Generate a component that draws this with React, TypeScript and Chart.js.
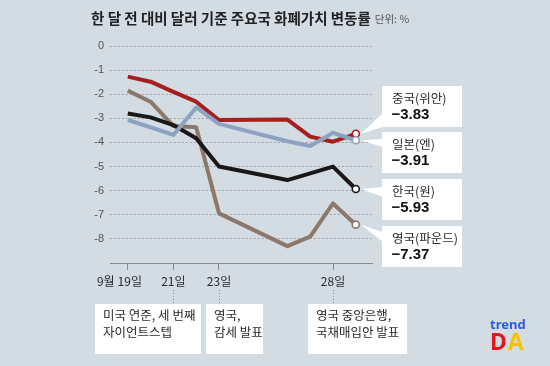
import { useEffect, useRef } from 'react';
import { Chart, registerables } from 'chart.js';

Chart.register(...registerables);

// ---- data ----
const days = [19, 20, 21, 22, 23, 26, 27, 28, 29];
const japanValues = [-3.07, -3.37, -3.69, -2.55, -3.23, -3.95, -4.15, -3.6, -3.91];
const chinaValues = [-1.27, -1.48, -1.9, -2.31, -3.07, -3.05, -3.76, -3.97, -3.64];
const koreaValues = [-2.8, -2.96, -3.28, -3.83, -5.0, -5.56, -5.28, -5.0, -5.93];
const ukValues = [-1.85, -2.31, -3.32, -3.37, -6.94, -8.3, -7.91, -6.53, -7.41];

const seriesNames = ['일본(엔)', '중국(위안)', '한국(원)', '영국(파운드)'];
const finalLabels = ['−3.91', '−3.83', '−5.93', '−7.37'];

const tickDays = [19, 21, 23, 28];
const tickLabels = ['19일', '21일', '23일', '28일'];
const monthLabel = '9월';
const yTickValues = [0, -1, -2, -3, -4, -5, -6, -7, -8];

const eventDays = [21, 23, 28];
const eventTexts = [
  ['미국 연준, 세 번째', '자이언트스텝'],
  ['영국,', '감세 발표'],
  ['영국 중앙은행,', '국채매입안 발표'],
];

const titleText = '한 달 전 대비 달러 기준 주요국 화폐가치 변동률';
const unitText = '단위: %';

// ---- styles ----
const BG = '#d3dbe3';
const COLORS = ['#8ea2c2', '#a51f1f', '#1b1716', '#8c7768'];
const KR = '"Noto Sans CJK KR", "Noto Sans", sans-serif';
const NUM = '"Liberation Sans", Arial, sans-serif';

const labelBoxLayout = [
  { top: 132, w1: 139, w2: 147 },
  { top: 86, w1: 113, w2: 127 },
  { top: 179, w1: 187, w2: 197 },
  { top: 226, w1: 232, w2: 242 },
];
const eventBoxLayout = [
  { left: 95, right: 201 },
  { left: 206, right: 263 },
  { left: 308, right: 407 },
];

const overlayPlugin = {
  id: 'overlay',
  afterDatasetsDraw(chart: any) {
    const ctx = chart.ctx as CanvasRenderingContext2D;
    const xs = chart.scales.x;
    ctx.save();
    const boxLeft = 382;
    const boxRight = 462;
    const boxH = 41;
    chart.data.datasets.forEach((ds: any, i: number) => {
      const meta = chart.getDatasetMeta(i);
      const pt = meta.data[meta.data.length - 1];
      const lay = labelBoxLayout[i];
      ctx.fillStyle = '#ffffff';
      ctx.beginPath();
      ctx.moveTo(pt.x + 5, pt.y);
      ctx.lineTo(boxLeft + 1, lay.w1);
      ctx.lineTo(boxLeft + 1, lay.w2);
      ctx.closePath();
      ctx.fill();
      ctx.fillRect(boxLeft, lay.top, boxRight - boxLeft, boxH);
      ctx.fillStyle = '#2a2a2a';
      ctx.textBaseline = 'middle';
      ctx.textAlign = 'left';
      ctx.font = `12.5px ${KR}`;
      ctx.fillText(seriesNames[i], 392, lay.top + 12);
      ctx.fillStyle = '#111';
      ctx.font = `bold 15px ${NUM}`;
      ctx.fillText(finalLabels[i], 391.5, lay.top + 29);
    });

    // x tick labels
    ctx.fillStyle = '#2a2a2a';
    ctx.font = `12px ${KR}`;
    ctx.textBaseline = 'middle';
    tickDays.forEach((d, i) => {
      const px = xs.getPixelForValue(d);
      ctx.textAlign = 'center';
      ctx.fillText(tickLabels[i], px + (i === 0 ? 2 : 0), 281);
      if (i === 0) {
        const w = ctx.measureText(tickLabels[i]).width;
        ctx.textAlign = 'right';
        ctx.fillText(monthLabel, px + 2 - w / 2 - 3, 281);
      }
    });
    ctx.textAlign = 'left';

    // event connectors and boxes
    eventDays.forEach((d, i) => {
      const px = Math.round(xs.getPixelForValue(d)) + 0.5;
      ctx.strokeStyle = '#8a8f96';
      ctx.lineWidth = 1;
      ctx.setLineDash([1, 2]);
      ctx.beginPath();
      ctx.moveTo(px, 290);
      ctx.lineTo(px, 304);
      ctx.stroke();
      ctx.setLineDash([]);
      const b = eventBoxLayout[i];
      ctx.fillStyle = '#ffffff';
      ctx.fillRect(b.left, 304, b.right - b.left, 50);
      ctx.fillStyle = '#2a2a2a';
      ctx.font = `12.5px ${KR}`;
      ctx.textBaseline = 'middle';
      ctx.fillText(eventTexts[i][0], b.left + 8, 315.5);
      ctx.fillText(eventTexts[i][1], b.left + 8, 332);
    });

    // title
    ctx.fillStyle = '#222';
    ctx.font = `bold 14.5px ${KR}`;
    ctx.textBaseline = 'middle';
    ctx.fillText(titleText, 91, 18);
    const tw = ctx.measureText(titleText).width;
    ctx.fillStyle = '#555';
    ctx.font = `10.5px ${KR}`;
    ctx.fillText(unitText, 91 + tw + 4, 19);

    // logo
    ctx.font = `bold 13px "Noto Sans", sans-serif`;
    ctx.fillStyle = '#2b5ce0';
    ctx.fillText('trend', 490, 325);
    ctx.font = `bold 23px "Noto Sans", sans-serif`;
    ctx.fillStyle = '#e3161f';
    ctx.fillText('D', 490, 343);
    const dw = ctx.measureText('D').width;
    ctx.fillStyle = '#f6c200';
    ctx.fillText('A', 490 + dw + 1, 343);
    ctx.restore();
  },
};

const seriesValues = [japanValues, chinaValues, koreaValues, ukValues];

export default function App() {
  const ref = useRef<HTMLCanvasElement>(null);
  useEffect(() => {
    if (!ref.current) return;
    const lastIdx = days.length - 1;
    const chart = new Chart(ref.current, {
      type: 'line',
      data: {
        datasets: seriesValues.map((vals, i) => ({
          label: seriesNames[i],
          data: days.map((d, j) => ({ x: d, y: vals[j] })),
          borderColor: COLORS[i],
          borderWidth: 4,
          tension: 0,
          borderJoinStyle: 'round' as const,
          borderCapStyle: 'butt' as const,
          pointRadius: days.map((_, j) => (j === lastIdx ? 3.5 : 0)),
          pointBackgroundColor: '#ffffff',
          pointBorderColor: COLORS[i],
          pointBorderWidth: 1.6,
          fill: false,
        })),
      },
      options: {
        responsive: false,
        animation: false,
        layout: { padding: { left: 80, top: 46, right: 178, bottom: 0 } },
        plugins: { legend: { display: false }, tooltip: { enabled: false }, title: { display: false } },
        scales: {
          x: {
            type: 'linear',
            min: 18.22,
            max: 29.71,
            afterFit: (s: any) => { s.height = 103; },
            afterBuildTicks: (s: any) => { s.ticks = tickDays.map((v) => ({ value: v })); },
            ticks: {
              autoSkip: false,
              maxRotation: 0,
              padding: 4,
              color: '#2a2a2a',
              font: { size: 12, family: KR },
              callback: () => '',
            },
            grid: { display: true, drawOnChartArea: false, drawTicks: true, tickLength: 7, color: '#8a8a8a' },
            border: { display: true, color: '#8a8a8a', width: 1 },
          },
          y: {
            type: 'linear',
            min: -9,
            max: 0,
            afterFit: (s: any) => { s.width = 30; },
            afterBuildTicks: (s: any) => { s.ticks = [...yTickValues, -9].map((v) => ({ value: v })); },
            ticks: {
              padding: 6,
              color: '#555',
              font: { size: 11, family: NUM },
              callback: (v: any) => (yTickValues.includes(Number(v)) ? String(v) : ''),
            },
            grid: {
              drawTicks: false,
              color: (c: any) => (c.tick && c.tick.value === -9 ? 'rgba(0,0,0,0)' : '#8f959c'),
              lineWidth: 1,
            },
            border: { display: false, dash: [1.5, 2.5] },
          },
        },
      },
      plugins: [overlayPlugin],
    } as any);
    return () => chart.destroy();
  }, []);

  return (
    <div style={{ position: 'fixed', left: 0, top: 0, width: 550, height: 366, background: BG }}>
      <canvas ref={ref} width={550} height={366} style={{ width: 550, height: 366, display: 'block' }} />
    </div>
  );
}
